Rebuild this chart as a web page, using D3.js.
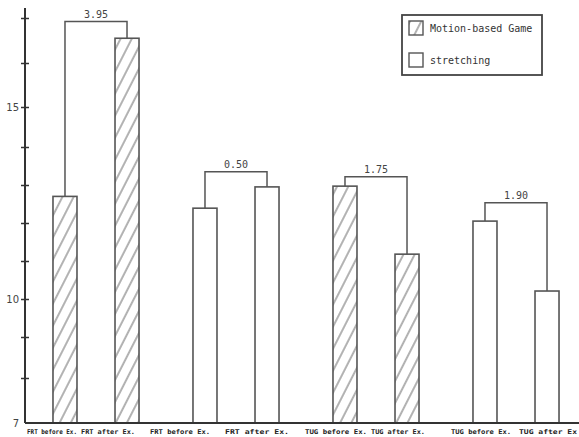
<!DOCTYPE html>
<html><head><meta charset="utf-8">
<script src="https://cdn.jsdelivr.net/npm/d3@7/dist/d3.min.js"></script>
<style>body{margin:0;background:#fff}svg{display:block}</style>
</head><body>
<svg id="chart" width="579" height="437"></svg>
<script>
// ---- data ----
const groups = ["FRT-game", "FRT-stretch", "TUG-game", "TUG-stretch"];
const phases = ["before", "after"];
const groupSeries = ["Motion-based Game", "stretching", "Motion-based Game", "stretching"];
const beforeValues = [12.7, 12.39, 12.97, 12.05];
const afterValues = [16.55, 12.95, 11.18, 10.21];
const barLabels = [
  ["FRT before Ex.", "FRT after Ex."],
  ["FRT before Ex.", "FRT after Ex."],
  ["TUG before Ex.", "TUG after Ex."],
  ["TUG before Ex.", "TUG after Ex"]
];
const diffLabels = ["3.95", "0.50", "1.75", "1.90"];
const bracketLevels = [16.92, 13.35, 13.22, 12.53];
const yTicks = [7, 8, 9, 10, 11, 12, 13, 14, 15, 16, 17];
const yTickLabels = {7: "7", 10: "10", 15: "15"};
const legendItems = ["Motion-based Game", "stretching"];

// ---- layout ----
const svg = d3.select("#chart");
const axisX = 25, baseY = 423;
// axis as printed (slightly uneven spacing in the source)
const y = d3.scaleLinear()
  .domain(yTicks)
  .range([423, 378, 337, 299, 261, 223, 185, 147, 107, 63, 18]);
const xGroup = d3.scaleBand().domain(groups).range([26, 586]).padding(0);
const xInner = d3.scaleBand().domain(phases).range([0, xGroup.bandwidth()])
  .paddingInner(0.613).paddingOuter(0.435);
// category label placement as printed in the source (labels drift from bar centres)
const labelIdx = d3.range(8);
const xLabel = d3.scaleLinear().domain(labelIdx).range([52, 108, 180, 257, 336, 398, 481, 548]);
const labelWidth = d3.scaleOrdinal().domain(labelIdx).range([50, 54, 60, 64, 62, 54, 60, 58]);

// hatch pattern
const defs = svg.append("defs");
const pat = defs.append("pattern").attr("id", "hatch")
  .attr("patternUnits", "userSpaceOnUse").attr("width", 10).attr("height", 10)
  .attr("patternTransform", "rotate(27)");
pat.append("rect").attr("width", 10).attr("height", 10).attr("fill", "#fff");
pat.append("line").attr("x1", 5).attr("y1", 0).attr("x2", 5).attr("y2", 10)
  .attr("stroke", "#666").attr("stroke-width", 1);

const fillFor = s => s === "Motion-based Game" ? "url(#hatch)" : "#fff";

// bars
const bars = [];
groups.forEach((g, i) => {
  phases.forEach((p, j) => {
    const v = j === 0 ? beforeValues[i] : afterValues[i];
    bars.push({g, p, v, s: groupSeries[i], label: barLabels[i][j], idx: i * 2 + j});
  });
});
svg.append("g").selectAll("rect").data(bars).join("rect")
  .attr("x", d => xGroup(d.g) + xInner(d.p))
  .attr("width", xInner.bandwidth())
  .attr("y", d => y(d.v))
  .attr("height", d => baseY - y(d.v))
  .attr("fill", d => fillFor(d.s))
  .attr("stroke", "#555").attr("stroke-width", 1.6);

// brackets
const bg = svg.append("g");
groups.forEach((g, i) => {
  const x1 = xGroup(g) + xInner("before") + xInner.bandwidth() / 2;
  const x2 = xGroup(g) + xInner("after") + xInner.bandwidth() / 2;
  const yl = y(bracketLevels[i]);
  bg.append("path")
    .attr("d", `M${x1},${y(beforeValues[i])}V${yl}H${x2}V${y(afterValues[i])}`)
    .attr("fill", "none").attr("stroke", "#555").attr("stroke-width", 1.5);
  bg.append("text").attr("x", (x1 + x2) / 2).attr("y", yl - 4)
    .attr("text-anchor", "middle")
    .attr("font-family", "DejaVu Sans Mono").attr("font-size", 10)
    .attr("fill", "#444").text(diffLabels[i]);
});

// x labels
svg.append("g").selectAll("text").data(bars).join("text")
  .attr("x", d => xLabel(d.idx))
  .attr("y", 434)
  .attr("text-anchor", "middle")
  .attr("font-family", "DejaVu Sans Mono").attr("font-size", 6.5)
  .attr("font-weight", "bold").attr("fill", "#222")
  .attr("textLength", d => labelWidth(d.idx))
  .attr("lengthAdjust", "spacingAndGlyphs")
  .text(d => d.label);

// baseline
svg.append("line").attr("x1", axisX).attr("x2", 579).attr("y1", baseY).attr("y2", baseY)
  .attr("stroke", "#333").attr("stroke-width", 2);

// y axis
const ax = svg.append("g").attr("transform", `translate(${axisX},0)`)
  .call(d3.axisLeft(y).tickValues(yTicks).tickSizeInner(4).tickSizeOuter(0)
    .tickFormat(d => yTickLabels[d] || ""));
ax.select(".domain").remove();
ax.selectAll(".tick line").attr("x1", 4).attr("stroke", "#333").attr("stroke-width", 1.5);
ax.selectAll(".tick text").attr("font-family", "DejaVu Sans").attr("font-size", 10)
  .attr("fill", "#444").attr("x", -6);
ax.selectAll(".tick").filter(d => d === 7).select("line").remove();
svg.append("line").attr("x1", axisX).attr("x2", axisX).attr("y1", 8).attr("y2", baseY)
  .attr("stroke", "#333").attr("stroke-width", 2);

// legend
const lg = svg.append("g");
lg.append("rect").attr("x", 402).attr("y", 15).attr("width", 140).attr("height", 60)
  .attr("fill", "#fff").attr("stroke", "#444").attr("stroke-width", 1.8);
legendItems.forEach((s, i) => {
  const yy = 21 + i * 32;
  lg.append("rect").attr("x", 409).attr("y", yy).attr("width", 14).attr("height", 14)
    .attr("fill", fillFor(s)).attr("stroke", "#555").attr("stroke-width", 1.4);
  lg.append("text").attr("x", 430).attr("y", yy + 11)
    .attr("font-family", "DejaVu Sans Mono").attr("font-size", 10)
    .attr("fill", "#333").text(s);
});
</script>
</body></html>
